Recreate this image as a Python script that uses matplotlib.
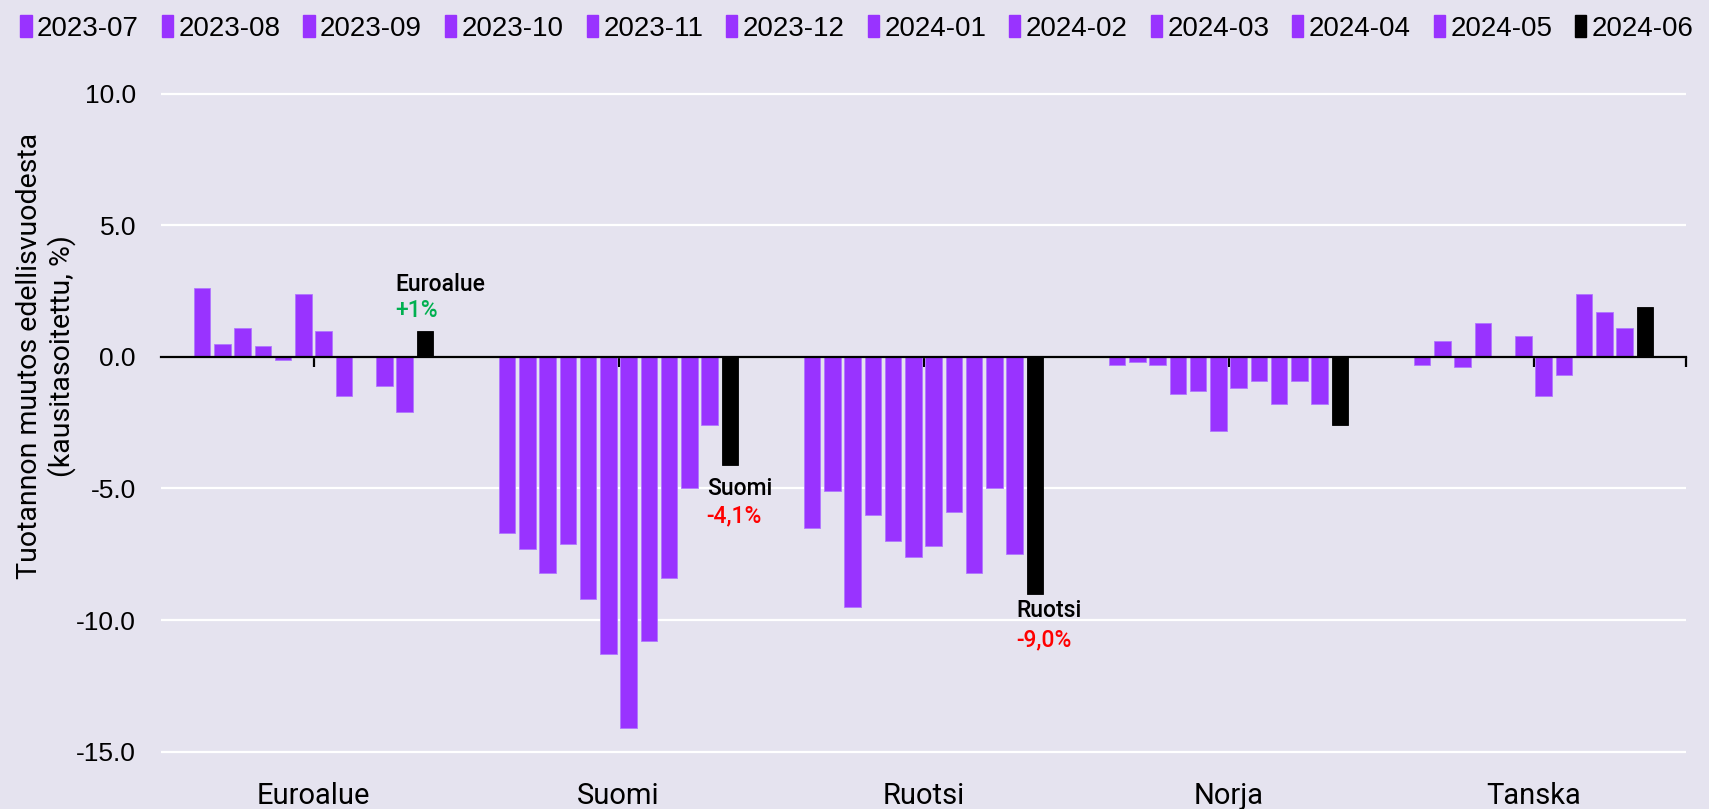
import matplotlib
matplotlib.use("Agg")
import matplotlib.pyplot as plt
import matplotlib.patches as mpatches
import numpy as np

plt.rcParams['axes.unicode_minus'] = False

categories = ["Euroalue", "Suomi", "Ruotsi", "Norja", "Tanska"]
months = ["2023-07", "2023-08", "2023-09", "2023-10", "2023-11", "2023-12",
          "2024-01", "2024-02", "2024-03", "2024-04", "2024-05", "2024-06"]

# values per country, one per month (NaN = no bar)
euroalue = [2.6, 0.5, 1.1, 0.4, -0.1, 2.4, 1.0, -1.5, np.nan, -1.1, -2.1, 1.0]
suomi = [-6.7, -7.3, -8.2, -7.1, -9.2, -11.3, -14.1, -10.8, -8.4, -5.0, -2.6, -4.1]
ruotsi = [-6.5, -5.1, -9.5, -6.0, -7.0, -7.6, -7.2, -5.9, -8.2, -5.0, -7.5, -9.0]
norja = [-0.3, -0.2, -0.3, -1.4, -1.3, -2.8, -1.2, -0.9, -1.8, -0.9, -1.8, -2.6]
tanska = [-0.3, 0.6, -0.4, 1.3, np.nan, 0.8, -1.5, -0.7, 2.4, 1.7, 1.1, 1.9]

data = np.array([euroalue, suomi, ruotsi, norja, tanska])  # shape (5, 12)

ann_names = ["Euroalue", "Suomi", "Ruotsi"]
ann_texts = ["+1%", "-4,1%", "-9,0%"]
ann_colors = ["#00B050", "#FF0000", "#FF0000"]

PURPLE = "#9933FF"
BG = "#E5E3EF"
bar_colors = [PURPLE] * 11 + ["#000000"]

fig = plt.figure(figsize=(17.09, 8.09), dpi=100, facecolor=BG)
ax = fig.add_axes([161 / 1709, 0.0676, 1525 / 1709, 0.8874 - 0.0676])
ax.set_facecolor(BG)

pitch = 0.0664
width = 0.0534
x = np.arange(len(categories))
for i, m in enumerate(months):
    ax.bar(x + (i - 5.5) * pitch, data[:, i], width=width, color=bar_colors[i],
           edgecolor="#B077FF" if i < 11 else "#000000", linewidth=0.6, label=m, zorder=2)

ax.set_xlim(-0.5, 4.5)
ax.set_ylim(-15.1, 10.1)
ax.set_yticks([-15, -10, -5, 0, 5, 10])
ax.set_yticklabels([f"{v:.1f}" for v in [-15, -10, -5, 0, 5, 10]],
                   family=["Liberation Sans", "DejaVu Sans"], fontsize=19)
ax.tick_params(axis='y', length=0, pad=18)
ax.grid(axis='y', color='white', linewidth=1.6, zorder=0)
ax.set_axisbelow(True)

for s in ["top", "right", "left"]:
    ax.spines[s].set_visible(False)
ax.spines["bottom"].set_position(("data", 0))
ax.spines["bottom"].set_color("black")
ax.spines["bottom"].set_linewidth(1.6)
ax.spines["bottom"].set_zorder(3)
ax.set_xticks(list(x) + [4.5])
ax.set_xticklabels([""] * 6)
ax.tick_params(axis='x', length=7, width=1.6, color='black', direction='out')

sec = ax.secondary_xaxis('bottom')
sec.set_xticks(x)
sec.set_xticklabels(categories, family=["Roboto", "DejaVu Sans"], fontsize=21)
sec.tick_params(length=0, pad=20)
sec.spines["bottom"].set_visible(False)

ax.set_ylabel("Tuotannon muutos edellisvuodesta\n(kausitasoitettu, %)",
              family=["Roboto", "DejaVu Sans"], fontsize=20.5, linespacing=1.15)
ax.yaxis.set_label_coords(-0.056, 0.60)

# annotations for last month bars
offsets = [((-21, 40), (-21, 14)), ((-15, -30), (-15, -58)), ((-10, -23), (-10, -53))]
for k, name in enumerate(ann_names):
    gi = categories.index(name)
    xb = gi + 5.5 * pitch - width / 2
    yv = data[gi, -1]
    (dx1, dy1), (dx2, dy2) = offsets[k]
    ax.annotate(name, xy=(xb, yv), xytext=(dx1, dy1), textcoords='offset pixels',
                ha='left', va='baseline', fontsize=16.5, family=["Roboto", "DejaVu Sans"],
                fontweight='medium', color='black', zorder=5)
    ax.annotate(ann_texts[k], xy=(xb, yv), xytext=(dx2, dy2), textcoords='offset pixels',
                ha='left', va='baseline', fontsize=16.5, family=["Roboto", "DejaVu Sans"],
                fontweight='medium', color=ann_colors[k], zorder=5)

handles = [mpatches.Patch(color=c, label=m) for c, m in zip(bar_colors, months)]
leg = fig.legend(handles=handles, loc='upper left', ncol=12,
                 bbox_to_anchor=(0.003, 1.0, 0.997, 0.0), mode='expand',
                 frameon=False, handlelength=0.4, handleheight=0.8,
                 handletextpad=0.2, borderaxespad=0.15,
                 prop={'family': ["Liberation Sans", "DejaVu Sans"], 'size': 20})

fig.savefig("out.png", dpi=100, facecolor=BG)
